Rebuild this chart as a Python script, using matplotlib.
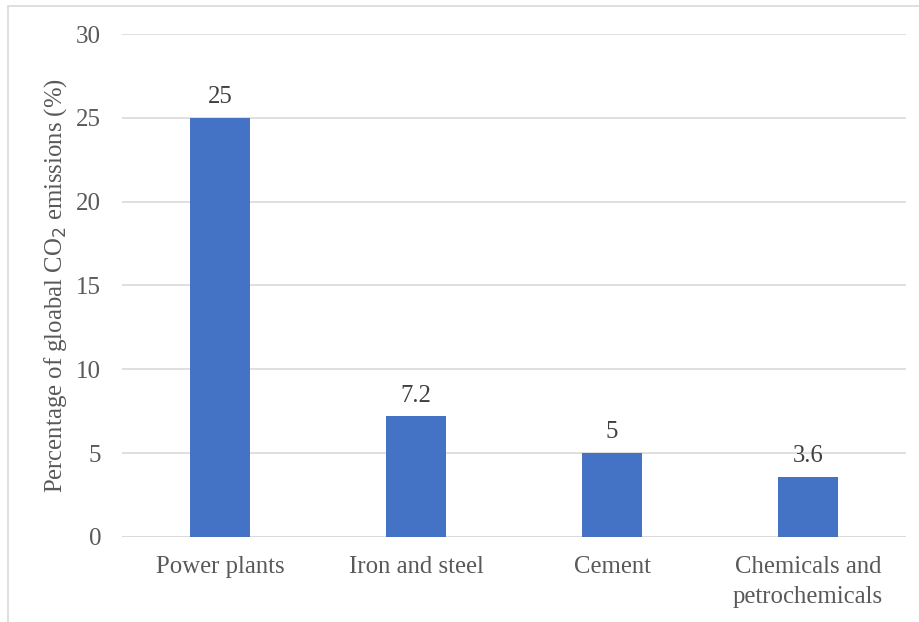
import matplotlib.pyplot as plt
from matplotlib.patches import Rectangle

# データ
categories = ['Power plants', 'Iron and steel', 'Cement', 'Chemicals and\npetrochemicals']
values = [25, 7.2, 5, 3.6]
value_labels = ['25', '7.2', '5', '3.6']
y_ticks = [0, 5, 10, 15, 20, 25, 30]

plt.rcParams['font.family'] = ['Liberation Serif', 'DejaVu Serif']
text_color = '#595959'
grid_color = '#D9D9D9'
bar_color = '#4472C4'

fig = plt.figure(figsize=(9.2, 6.22), dpi=100)
ax = fig.add_axes([0.1326, 0.1367, 0.8522, 0.8086])

# 外枠（右と下は切れている）
fig.patches.append(Rectangle((8 / 920, -0.05), 1.1, 0.05 + (622 - 6) / 622,
                             transform=fig.transFigure, fill=False,
                             edgecolor=grid_color, linewidth=1.2))

x = range(len(categories))
ax.bar(x, values, width=0.31, color=bar_color, zorder=3)

for xi, v, lab in zip(x, values, value_labels):
    ax.annotate(lab, (xi, v), xytext=(0, 7), textcoords='offset points',
                ha='center', va='bottom', fontsize=17.8, color='#404040')

ax.set_xlim(-0.5, len(categories) - 0.5)
ax.set_ylim(0, 30)
ax.set_yticks(y_ticks)
ax.set_xticks(list(x))
ax.set_xticklabels(categories, fontsize=17.8, color=text_color, linespacing=1.45)
ax.tick_params(axis='y', labelsize=18, labelcolor=text_color, length=0, pad=15)
ax.tick_params(axis='x', length=0, pad=14)
ax.yaxis.grid(True, color=grid_color, linewidth=1.2, zorder=0)
for s in ax.spines.values():
    s.set_visible(False)
ax.axhline(0, color=grid_color, linewidth=1.2, zorder=2)

ax.set_ylabel('Percentage of gloabal CO$_2$ emissions (%)', fontsize=17.8,
              color=text_color, labelpad=5)

fig.savefig('out.png', dpi=100)
